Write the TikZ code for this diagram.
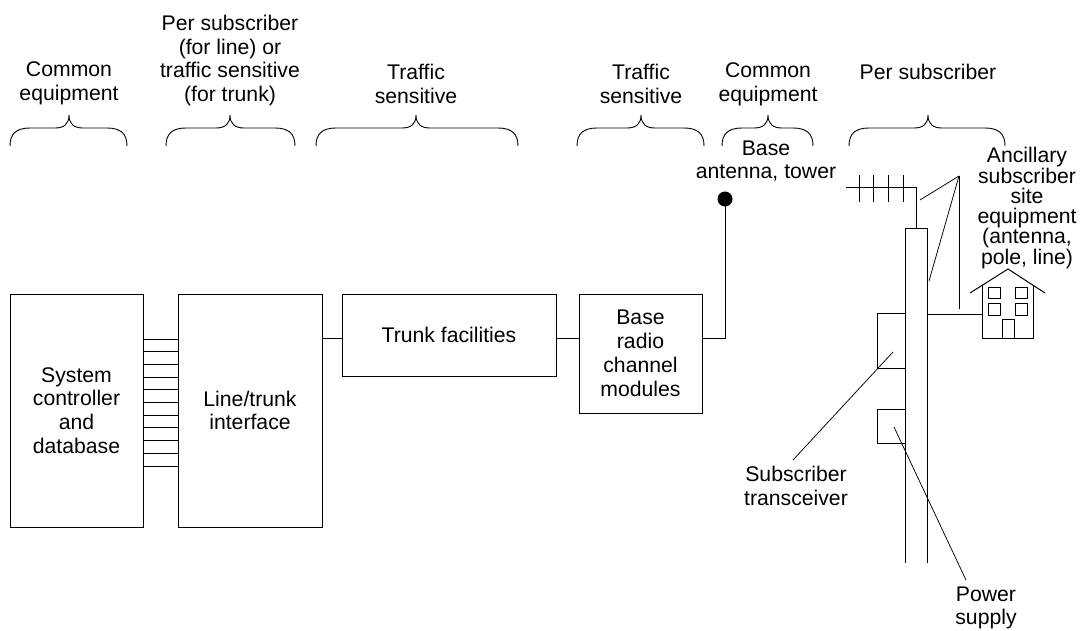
\documentclass[tikz,border=0pt]{standalone}
\usepackage{fontspec}
\setmainfont{Liberation Sans}
\begin{document}
\begin{tikzpicture}[x=1pt,y=-1pt,
  wire/.style={line width=1pt},
  pointer/.style={line width=0.75pt},
  brace/.style={line width=0.9pt},
  lbl/.style={align=center, inner sep=0pt, font=\fontsize{21.2}{23.8}\selectfont},
  tightlbl/.style={align=center, inner sep=0pt, font=\fontsize{21.2}{20.3}\selectfont},
  block/.style={draw, line width=1pt, align=center, inner sep=0pt,
                font=\fontsize{21.2}{23.8}\selectfont}]
\useasboundingbox (0,0) rectangle (1082,631);

% curly brace over a group: left end, tip, right end
\def\grpbrace#1#2#3{%
  \draw[brace] (#1,146) .. controls (#1,134) and ({#1+6},128) .. ({#1+20},128)
    -- ({#2-14},128) .. controls ({#2-5},128) and (#2,124) .. (#2,115)
    .. controls (#2,124) and ({#2+5},128) .. ({#2+14},128)
    -- ({#3-20},128) .. controls ({#3-6},128) and (#3,134) .. (#3,146);}

% group headings
\node[lbl] (h1) at (69,83) {Common\\equipment};
\node[lbl] (h2) at (230,60.5) {Per subscriber\\(for line) or\\traffic sensitive\\(for trunk)};
\node[lbl] (h3) at (416,84) {Traffic\\sensitive};
\node[lbl] (h4) at (641,84) {Traffic\\sensitive};
\node[lbl] (h5) at (768,84) {Common\\equipment};
\node[lbl] (h6) at (928,72) {Per subscriber};

\grpbrace{10}{69}{127}
\grpbrace{166}{230}{295}
\grpbrace{316}{416}{518}
\grpbrace{577}{641}{704}
\grpbrace{722}{768}{813}
\grpbrace{849}{928}{1005}

% switching and base station blocks
\node[block, minimum width=133, minimum height=233] (sys) at (76.5,410.5)
  {System\\controller\\and\\database};
\node[block, minimum width=144, minimum height=233] (lti) at (250,410.5)
  {Line/trunk\\interface};
\node[block, minimum width=214, minimum height=82] (trunk) at (449,335)
  {Trunk facilities};
\node[block, minimum width=123, minimum height=119] (radio) at (640.5,353.5)
  {Base\\radio\\channel\\modules};

% parallel bus between controller and interface
\foreach \yy in {339,351.7,364.4,377.1,389.8,402.5,415.2,427.9,440.6,453.3,466} {
  \coordinate (busy) at (0,\yy);
  \draw[wire] (sys.east |- busy) -- (lti.west |- busy);
}

% trunk path and base antenna feed
\coordinate (feed) at (0,338);
\draw[wire] (lti.east |- feed) -- (trunk.west |- feed);
\draw[wire] (trunk.east |- feed) -- (radio.west |- feed);
\node[circle, fill=black, inner sep=0pt, minimum size=15] (dot) at (725,199) {};
\draw[wire] (radio.east |- feed) -| (dot.center);
\node[lbl] (baselbl) at (766,161) {Base\\antenna, tower};

% subscriber pole
\coordinate (pbl) at (905,563);
\coordinate (ptl) at (905,229);
\coordinate (ptr) at (927,229);
\coordinate (pbr) at (927,563);
\draw[wire] (pbl) -- (ptl) -- (ptr) -- (pbr);

% subscriber antenna on the mast
\coordinate (mtop) at (916,188);
\coordinate (mend) at (846,188);
\draw[wire] (916,229) -- (mtop) -- (mend);
\foreach \xx in {859,873,888,903}
  \draw[wire] (\xx,175) -- (\xx,202);

% transceiver and power supply on the pole
\coordinate (trx1) at (905,313);
\coordinate (trx2) at (877,368);
\draw[wire] (trx1) -- (877,313) -- (trx2) -- (905,368);
\coordinate (psu1) at (905,409);
\coordinate (psu2) at (877,443);
\draw[wire] (psu1) -- (877,409) -- (psu2) -- (905,443);

% house with drop line
\draw[wire] (970,293) -- (1008,269) -- (1045,293);
\draw[wire] (982,285.4) -- (982,338) -- (1033,338) -- (1033,285.2);
\foreach \wx in {988,1015} {
  \draw[wire] (\wx,287) rectangle ({\wx+12},298);
  \draw[wire] (\wx,303) rectangle ({\wx+12},315);
}
\draw[wire] (1002,338) -- (1002,319) -- (1014,319) -- (1014,338);
\coordinate (drop) at (982,314);
\draw[wire] (ptr |- drop) -- (drop);

% callouts
\node[tightlbl] (anc) at (1027,208)
  {Ancillary\\subscriber\\site\\equipment\\(antenna,\\pole, line)};
\coordinate (ancpt) at (959,176);
\draw[pointer] (ancpt) -- (920,200);
\draw[pointer] (ancpt) -- (929,281);
\draw[pointer] (ancpt) -- (959,309);

\node[lbl] (trxlbl) at (796,486) {Subscriber\\transceiver};
\draw[pointer] (893,352) -- (793,460);

\node[lbl] (psulbl) at (986,608) {Power\\supply};
\draw[pointer] (894,427) -- (966,580);
\end{tikzpicture}
\end{document}
